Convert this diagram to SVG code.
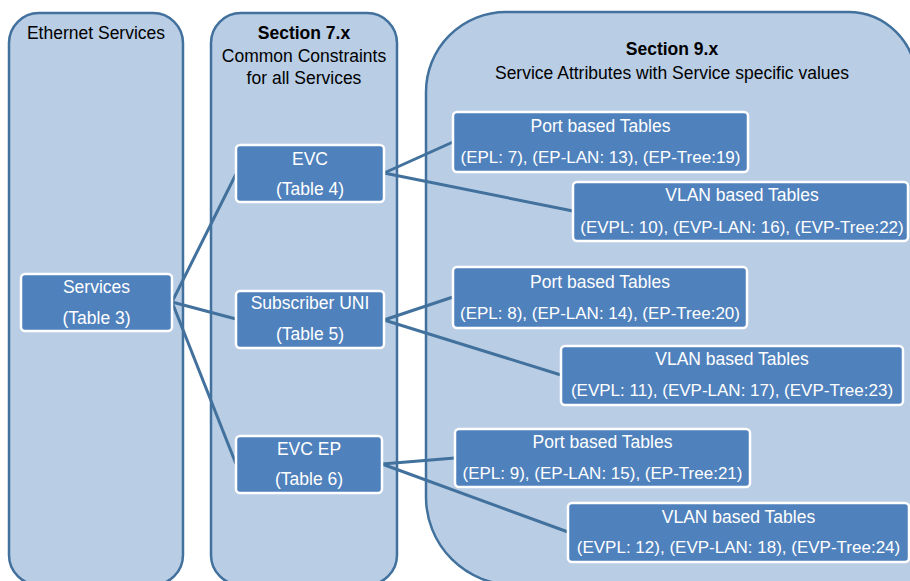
<svg xmlns="http://www.w3.org/2000/svg" width="910" height="581" viewBox="0 0 910 581">
  <style>
    .panel { fill: #B9CDE5; stroke: #41719C; stroke-width: 2.5; }
    .box { fill: #4F81BD; stroke: #FFFFFF; stroke-width: 2.5; }
    .head { font-family: "Liberation Sans", Arial, sans-serif; font-size: 17.5px; fill: #000; text-anchor: middle; }
    .bold { font-weight: bold; }
    .lbl { font-family: "Liberation Sans", Arial, sans-serif; font-size: 17.5px; fill: #FFFFFF; text-anchor: middle; }
    .data { font-size: 17px; }
    .link { stroke: #41719C; stroke-width: 3; fill: none; }
  </style>

  <!-- column panels -->
  <g id="panel-ethernet-services">
    <rect class="panel" x="9" y="13" width="174" height="572" rx="30" ry="30"/>
    <text class="head" x="96" y="39">Ethernet Services</text>
  </g>
  <g id="panel-section-7">
    <rect class="panel" x="211" y="13" width="186" height="572" rx="30" ry="30"/>
    <text class="head bold" x="304" y="39">Section 7.x</text>
    <text class="head" x="304" y="62">Common Constraints</text>
    <text class="head" x="304" y="84">for all Services</text>
  </g>
  <g id="panel-section-9">
    <path class="panel" d="M506,12 H848 A68,68 0 0 1 916,80 V585 H514 A88,88 0 0 1 426,497 V92 A80,80 0 0 1 506,12 Z"/>
    <text class="head bold" x="672" y="55">Section 9.x</text>
    <text class="head" x="672" y="79">Service Attributes with Service specific values</text>
  </g>

  <!-- connectors -->
  <g id="connectors">
    <line class="link" x1="172" y1="302" x2="236" y2="174"/>
    <line class="link" x1="172" y1="302" x2="236" y2="319"/>
    <line class="link" x1="172" y1="302" x2="236" y2="464"/>
    <line class="link" x1="384" y1="173" x2="453" y2="142"/>
    <line class="link" x1="384" y1="173" x2="573" y2="211"/>
    <line class="link" x1="384" y1="320" x2="453" y2="297"/>
    <line class="link" x1="384" y1="320" x2="561" y2="375"/>
    <line class="link" x1="382" y1="464" x2="455" y2="458"/>
    <line class="link" x1="382" y1="464" x2="568" y2="532"/>
  </g>

  <!-- nodes -->
  <g id="services">
    <rect class="box" x="21" y="274" width="151" height="57" rx="4"/>
    <text class="lbl" x="96.5" y="293">Services</text>
    <text class="lbl" x="96.5" y="324">(Table 3)</text>
  </g>
  <g id="evc">
    <rect class="box" x="236" y="145" width="148" height="57" rx="4"/>
    <text class="lbl" x="310" y="165">EVC</text>
    <text class="lbl" x="310" y="195">(Table 4)</text>
  </g>
  <g id="subscriber-uni">
    <rect class="box" x="236" y="291" width="148" height="57" rx="4"/>
    <text class="lbl" x="310" y="309">Subscriber UNI</text>
    <text class="lbl" x="310" y="340">(Table 5)</text>
  </g>
  <g id="evc-ep">
    <rect class="box" x="236" y="436" width="146" height="57" rx="4"/>
    <text class="lbl" x="309" y="455">EVC EP</text>
    <text class="lbl" x="309" y="485">(Table 6)</text>
  </g>

  <g id="evc-port-tables">
    <rect class="box" x="453" y="112" width="295" height="60" rx="4"/>
    <text class="lbl" x="600.5" y="132">Port based Tables</text>
    <text class="lbl data" x="600.5" y="163">(EPL: 7), (EP-LAN: 13), (EP-Tree:19)</text>
  </g>
  <g id="evc-vlan-tables">
    <rect class="box" x="573" y="182" width="335" height="59" rx="4"/>
    <text class="lbl" x="742" y="201">VLAN based Tables</text>
    <text class="lbl data" x="742" y="233">(EVPL: 10), (EVP-LAN: 16), (EVP-Tree:22)</text>
  </g>
  <g id="uni-port-tables">
    <rect class="box" x="453" y="267" width="294" height="61" rx="4"/>
    <text class="lbl" x="600" y="288">Port based Tables</text>
    <text class="lbl data" x="600" y="319">(EPL: 8), (EP-LAN: 14), (EP-Tree:20)</text>
  </g>
  <g id="uni-vlan-tables">
    <rect class="box" x="561" y="346" width="342" height="59" rx="4"/>
    <text class="lbl" x="732" y="365">VLAN based Tables</text>
    <text class="lbl data" x="732" y="396">(EVPL: 11), (EVP-LAN: 17), (EVP-Tree:23)</text>
  </g>
  <g id="ep-port-tables">
    <rect class="box" x="455" y="429" width="295" height="58" rx="4"/>
    <text class="lbl" x="602.5" y="448">Port based Tables</text>
    <text class="lbl data" x="602.5" y="479">(EPL: 9), (EP-LAN: 15), (EP-Tree:21)</text>
  </g>
  <g id="ep-vlan-tables">
    <rect class="box" x="568" y="503" width="341" height="59" rx="4"/>
    <text class="lbl" x="738.5" y="523">VLAN based Tables</text>
    <text class="lbl data" x="738.5" y="553">(EVPL: 12), (EVP-LAN: 18), (EVP-Tree:24)</text>
  </g>
</svg>
